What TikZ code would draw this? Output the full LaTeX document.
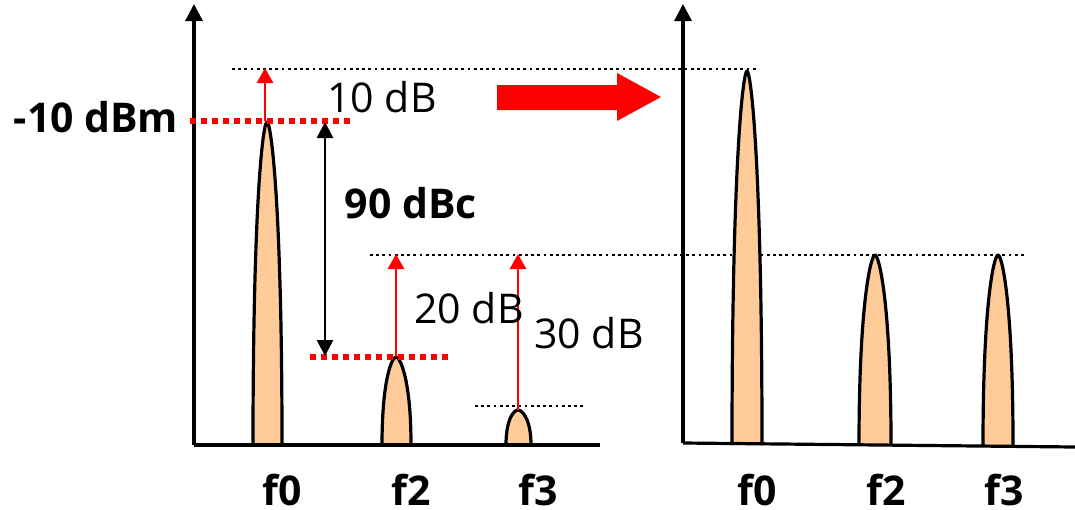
\documentclass[tikz,border=0pt]{standalone}
\usepackage{fontspec}
\setmainfont{Open Sans}
\usetikzlibrary{arrows.meta}
\definecolor{peak}{HTML}{FFCC99}
\tikzset{
  axis/.style={line width=3.2pt,-{Triangle[width=17pt,length=17pt]}},
  base/.style={line width=3.2pt},
  blackdot/.style={line width=2.8pt,dash pattern=on 2.8pt off 3.4pt},
  reddot/.style={red,line width=5.5pt,dash pattern=on 5.5pt off 5.5pt},
  redarrow/.style={red,line width=2.8pt,-{Triangle[width=16pt,length=15pt]}},
  dimarrow/.style={line width=2.8pt,{Triangle[width=16pt,length=16pt]}-{Triangle[width=16pt,length=16pt]}},
  peakfill/.style={fill=peak,draw=black,line width=3.2pt,line join=round},
  lbl/.style={font=\fontsize{41}{49}\selectfont,inner sep=0pt,anchor=base},
  blbl/.style={font=\fontsize{41}{49}\selectfont\bfseries,inner sep=0pt,anchor=base},
}
\newcommand{\peakshape}[4]{% xl xc xr ytop
  \filldraw[peakfill] (#1,445) .. controls (#1,{#4+0.25*(445-#4)}) and ({#2-4},#4) .. (#2,#4)
     .. controls ({#2+4},#4) and (#3,{#4+0.25*(445-#4)}) .. (#3,445);}
\begin{document}
\begin{tikzpicture}[x=1pt,y=-1pt]
\useasboundingbox (0,0) rectangle (1075,509);
% left axes
\coordinate (lo) at (194,445);
\coordinate (ltop) at (194,4);
\coordinate (lend) at (600,445);
% right axes
\coordinate (ro) at (683,443);
\coordinate (rtop) at (683,4);
\coordinate (rend) at (1075,447);

% dotted reference lines
\coordinate (d1a) at (232,69); \coordinate (d1b) at (757,69);
\coordinate (d2a) at (370,255); \coordinate (d2b) at (1024,255);
\coordinate (d3a) at (475,406); \coordinate (d3b) at (584,406);
\draw[blackdot] (d1a) -- (d1b);
\draw[blackdot] (d2a) -- (d2b);
\draw[blackdot] (d3a) -- (d3b);

% peaks left
\peakshape{253}{267}{282}{122}
\peakshape{382}{396}{411}{357}
\peakshape{506}{518}{531}{410}
% peaks right
\peakshape{732}{747}{762}{71}
\peakshape{859}{875}{891}{255}
\peakshape{983}{998}{1013}{255}

\draw[base] (lo) -- (lend);
\draw[axis] (lo) -- (ltop);
\draw[base] (ro) -- (rend);
\draw[axis] (ro) -- (rtop);

% red dotted levels
\coordinate (r1a) at (190,121); \coordinate (r1b) at (352,121);
\coordinate (r2a) at (310,357); \coordinate (r2b) at (448,357);
\draw[reddot] (r1a) -- (r1b);
\draw[reddot] (r2a) -- (r2b);

% red arrows
\coordinate (a0s) at (265,121); \coordinate (a0e) at (265,68);
\coordinate (a2s) at (396,357); \coordinate (a2e) at (396,254);
\coordinate (a3s) at (518,410); \coordinate (a3e) at (518,254);
\draw[redarrow] (a0s) -- (a0e);
\draw[redarrow] (a2s) -- (a2e);
\draw[redarrow] (a3s) -- (a3e);

% dBc dimension
\coordinate (dA) at (325,122); \coordinate (dB) at (325,356);
\draw[dimarrow] (dA) -- (dB);

% big red arrow
\fill[red] (497,85) -- (617,85) -- (617,73) -- (661,97) -- (617,121) -- (617,110) -- (497,110) -- cycle;

% labels
\node[lbl] (t10) at (382,112) {10 dB};
\node[blbl] (tdbm) at (96,132) {-10 dBm};
\node[blbl] (tdbc) at (411,218) {90 dBc};
\node[lbl] (t20) at (469,323) {20 dB};
\node[lbl] (t30) at (589,348) {30 dB};
\node[blbl] (lf0) at (282,505) {f0};
\node[blbl] (lf2) at (411,505) {f2};
\node[blbl] (lf3) at (538,505) {f3};
\node[blbl] (rf0) at (757,505) {f0};
\node[blbl] (rf2) at (886,505) {f2};
\node[blbl] (rf3) at (1004,505) {f3};
\end{tikzpicture}
\end{document}
